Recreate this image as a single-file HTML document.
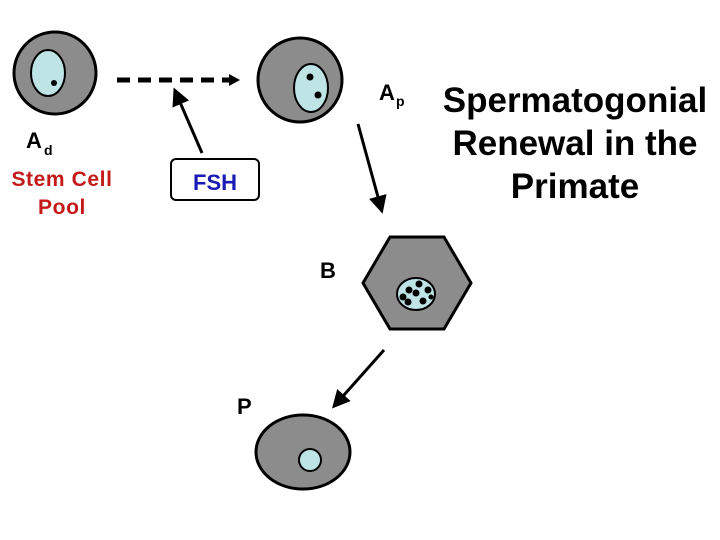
<!DOCTYPE html>
<html><head><style>body{margin:0;background:#fff}svg{display:block}text{font-family:"Liberation Sans",sans-serif;font-weight:bold}</style></head><body>
<svg width="720" height="540" viewBox="0 0 720 540">
<defs><marker id="ah" markerWidth="6" markerHeight="6" refX="4" refY="3" orient="auto" markerUnits="strokeWidth"><path d="M0,0L6,3L0,6z" fill="#000"/></marker></defs>
<circle cx="55" cy="73" r="41" fill="#8c8c8c" stroke="#000" stroke-width="3"/>
<ellipse cx="48" cy="73" rx="17" ry="23" fill="#bfe4e6" stroke="#000" stroke-width="2"/>
<circle cx="54" cy="83" r="3" fill="#000"/>
<circle cx="300" cy="80" r="42" fill="#8c8c8c" stroke="#000" stroke-width="3"/>
<ellipse cx="311" cy="88" rx="17" ry="24" fill="#bfe4e6" stroke="#000" stroke-width="2"/>
<circle cx="310" cy="77" r="3.5" fill="#000"/><circle cx="318" cy="95" r="3.5" fill="#000"/>
<line x1="117" y1="80" x2="232" y2="80" stroke="#000" stroke-width="5" stroke-dasharray="13,8"/>
<path d="M229,74L240,80L229,86z" fill="#000"/>
<line x1="202" y1="153" x2="176" y2="93" stroke="#000" stroke-width="3" marker-end="url(#ah)"/>
<rect x="171" y="159" width="88" height="41" rx="5" fill="#fff" stroke="#000" stroke-width="2"/>
<text x="215" y="190" font-size="22" fill="#1a1ab4" text-anchor="middle">FSH</text>
<text x="26" y="148" font-size="22" fill="#000">A</text><text x="44" y="155" font-size="14">d</text>
<text x="62" y="186" font-size="21" letter-spacing="0.6" fill="#c41a1a" text-anchor="middle">Stem Cell</text>
<text x="62" y="214" font-size="21" letter-spacing="0.6" fill="#c41a1a" text-anchor="middle">Pool</text>
<text x="379" y="100" font-size="22">A</text><text x="396" y="106" font-size="14">p</text>
<text x="575" y="112" font-size="35" text-anchor="middle">Spermatogonial</text>
<text x="575" y="155" font-size="35" text-anchor="middle">Renewal in the</text>
<text x="575" y="198" font-size="35" text-anchor="middle">Primate</text>
<line x1="358" y1="124" x2="381" y2="208" stroke="#000" stroke-width="3" marker-end="url(#ah)"/>
<polygon points="363,283 390,237 444,237 471,283 444,329 390,329" fill="#8c8c8c" stroke="#000" stroke-width="3"/>
<ellipse cx="416" cy="294" rx="19" ry="16" fill="#bfe4e6" stroke="#000" stroke-width="2"/>
<g fill="#000"><circle cx="419" cy="284" r="3.5"/><circle cx="428" cy="290" r="3.5"/><circle cx="409" cy="290" r="3.5"/><circle cx="416" cy="293" r="3.5"/><circle cx="403" cy="297" r="3.5"/><circle cx="423" cy="301" r="3.5"/><circle cx="408" cy="302" r="3.5"/><circle cx="431" cy="297" r="2.5"/></g>
<text x="320" y="278" font-size="22">B</text>
<line x1="384" y1="350" x2="336" y2="404" stroke="#000" stroke-width="3" marker-end="url(#ah)"/>
<text x="237" y="414" font-size="22">P</text>
<ellipse cx="303" cy="452" rx="47" ry="37" fill="#8c8c8c" stroke="#000" stroke-width="3"/>
<circle cx="310" cy="460" r="11" fill="#bfe4e6" stroke="#000" stroke-width="2"/>
</svg></body></html>
